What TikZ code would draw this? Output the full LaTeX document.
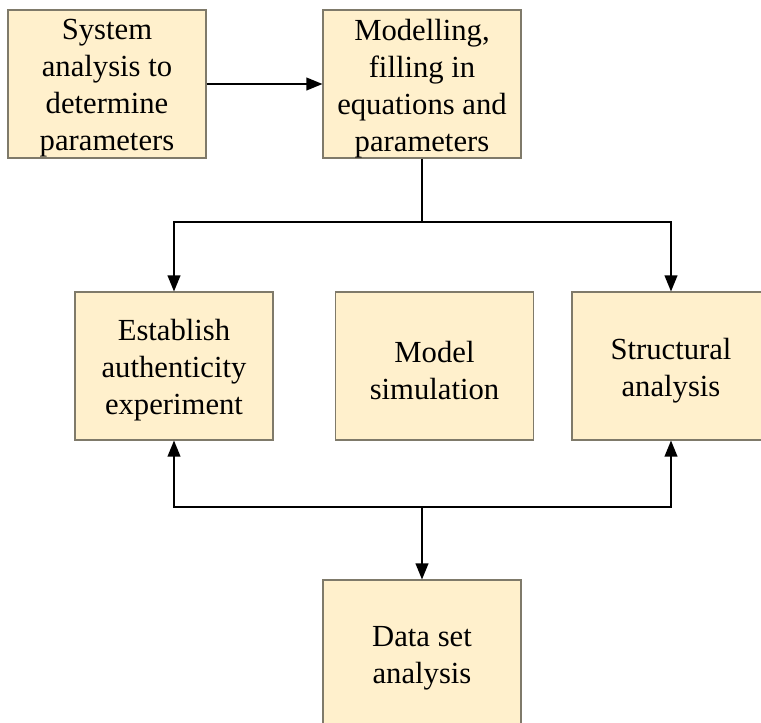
\documentclass[tikz,border=0pt]{standalone}
\usepackage{fontspec}
\setmainfont{Liberation Serif}
\usepackage{xcolor}
\usepackage{tikz}
\usetikzlibrary{arrows.meta,positioning}
\definecolor{Ink}{HTML}{000000}
\definecolor{Edge}{HTML}{7F7A6A}
\definecolor{Cream}{HTML}{FFF0CC}

\begin{document}
\begin{tikzpicture}[x=0.75pt,y=-0.75pt,>={Triangle[length=12pt,width=9.5pt]},
  stage/.style={draw=Edge,line width=0.8pt,fill=Cream,minimum width=148.5pt,
    minimum height=111pt},
  caption/.style={align=center,text=Ink,inner sep=0pt,yshift=-3.4pt,
    font=\fontsize{23}{27.75}\selectfont},
  link/.style={Ink,line width=1.3pt,->}]
  \path[use as bounding box,clip] (0,0) rectangle (761,722);
  \node[stage,label={[caption]center:{System\\analysis to\\determine\\parameters}}]
    (sys) at (107,84) {};
  \node[stage,label={[caption]center:{Modelling,\\filling in\\equations and\\parameters}}]
    (mod) at (422,84) {};
  \node[stage,label={[caption]center:{Establish\\authenticity\\experiment}}]
    (est) at (174,366) {};
  \node[stage,label={[caption]center:{Model\\simulation}}]
    (sim) at (434.5,366) {};
  \node[stage,label={[caption]center:{Structural\\analysis}}]
    (str) at (671,366) {};
  \node[stage,label={[caption]center:{Data set\\analysis}}]
    (dat) at (422,654) {};
  \coordinate (split) at (422,222);
  \coordinate (join) at (422,507);
  \draw[link] (sys) -- (mod);
  \draw[Ink,line width=1.3pt] (mod.south) -- (split);
  \draw[link] (split) -| (est.north);
  \draw[link] (split) -| (str.north);
  \draw[link] (join) -| (est.south);
  \draw[link] (join) -| (str.south);
  \draw[link] (join) -- (dat.north);
\end{tikzpicture}
\end{document}
